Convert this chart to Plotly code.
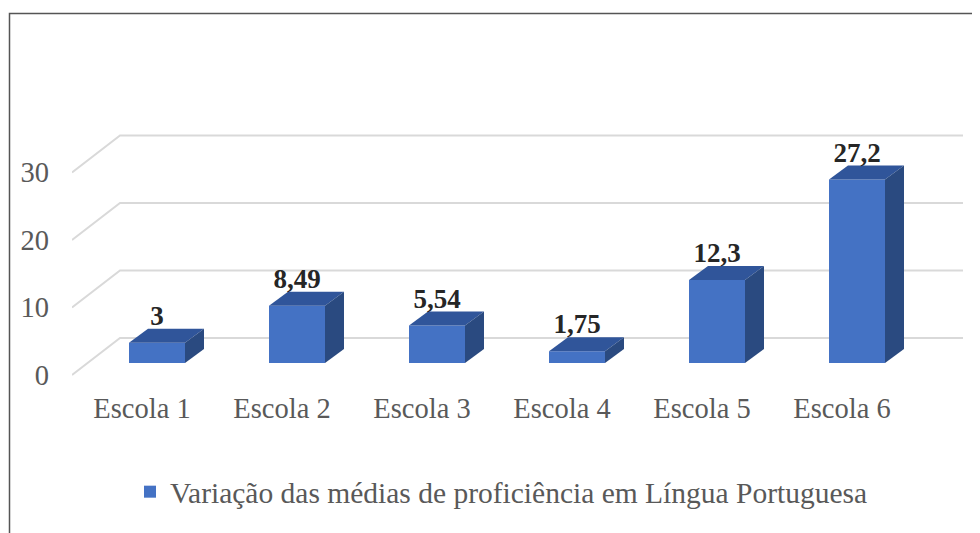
import plotly.graph_objects as go

# ---- data ----
categories = ["Escola 1", "Escola 2", "Escola 3", "Escola 4", "Escola 5", "Escola 6"]
values = [3, 8.49, 5.54, 1.75, 12.3, 27.2]
series_name = "Variação das médias de proficiência em Língua Portuguesa"
y_ticks = [0, 10, 20, 30]

# ---- style / geometry (pseudo-3D projection) ----
W, H = 980, 533
OFF = 8                                  # page body margin
L, R, T, B = 72 - OFF, 965 - OFF, 40 - OFF, 384 - OFF   # plot area in pixels
PX_X = 140.0                             # pixels per category
PX_Y = 6.75                              # pixels per value unit
Y0_PIX = 375 - OFF                       # pixel row of value 0 in front plane
x_range = [0, (R - L) / PX_X]
y_range = [(Y0_PIX - B) / PX_Y, (Y0_PIX - T) / PX_Y]

depth_dx, depth_dy = 48 / PX_X, 37 / PX_Y          # full floor depth
bar_off_dx, bar_off_dy = 15 / PX_X, 12 / PX_Y      # bar front-face offset
bar_w = 56 / PX_X
side_dx, side_dy = 19 / PX_X, 14 / PX_Y            # bar depth
grid_end = (963 - OFF - L) / PX_X
label_drop = 3 / PX_Y

c_front = "#4472C4"
c_top = "#30559A"
c_side = "#2A4A80"
font_fam = "Liberation Serif"

fig = go.Figure()

xc = [i + 0.5 + bar_off_dx for i in range(len(categories))]
base = bar_off_dy

# front faces
fig.add_trace(go.Bar(
    x=xc, y=values, base=[base] * len(values), width=bar_w,
    marker=dict(color=c_front, line=dict(width=0)),
    name=series_name, showlegend=True, hoverinfo="skip",
))

# top and side faces
for x, v in zip(xc, values):
    xl, xr = x - bar_w / 2, x + bar_w / 2
    top = base + v
    fig.add_trace(go.Scatter(
        x=[xl, xr, xr + side_dx, xl + side_dx, xl],
        y=[top, top, top + side_dy, top + side_dy, top],
        fill="toself", fillcolor=c_top, mode="lines",
        line=dict(width=0, color=c_top), showlegend=False, hoverinfo="skip"))
    fig.add_trace(go.Scatter(
        x=[xr, xr + side_dx, xr + side_dx, xr, xr],
        y=[base, base + side_dy, top + side_dy, top, base],
        fill="toself", fillcolor=c_side, mode="lines",
        line=dict(width=0, color=c_side), showlegend=False, hoverinfo="skip"))

# data labels
labels = [("%g" % v).replace(".", ",") for v in values]
fig.add_trace(go.Scatter(
    x=xc, y=[base + v + side_dy - label_drop for v in values], mode="text",
    text=labels, textposition="top center",
    textfont=dict(family=font_fam, size=27, color="#262626", weight="bold"),
    showlegend=False, hoverinfo="skip", cliponaxis=False))

# gridlines (3D: floor diagonal + back wall line)
shapes = []
for v in y_ticks:
    path = "M 0,{a} L {b},{c} L {d},{c}".format(a=v, b=depth_dx, c=v + depth_dy, d=grid_end)
    shapes.append(dict(type="path", path=path, xref="x", yref="y", layer="below",
                       line=dict(color="#D9D9D9", width=2)))

# outer frame
ph, pw = B - T, R - L
shapes.append(dict(type="rect", xref="paper", yref="paper",
                   x0=(9.5 - OFF - L) / pw, x1=(995 - L) / pw,
                   y0=(B - (13.5 - OFF)) / ph, y1=(B - 545) / ph,
                   line=dict(color="#555555", width=1.5), layer="below"))

fig.update_layout(
    width=W, height=H,
    margin=dict(l=L, r=W - R, t=T, b=H - B),
    paper_bgcolor="white", plot_bgcolor="rgba(0,0,0,0)",
    font=dict(family=font_fam, color="#595959"),
    shapes=shapes,
    separators=",.",
    showlegend=True,
    legend=dict(orientation="h", x=(130 - OFF - L) / pw, xanchor="left",
                y=(B - (492 - OFF)) / ph, yanchor="middle",
                font=dict(family=font_fam, size=29.5, color="#595959"),
                bgcolor="rgba(0,0,0,0)"),
    xaxis=dict(range=x_range, tickvals=[i + 0.5 for i in range(len(categories))],
               ticktext=categories, showgrid=False, zeroline=False, showline=False,
               ticks="", ticklabelstandoff=4,
               tickfont=dict(family=font_fam, size=28.5, color="#595959")),
    yaxis=dict(range=y_range, tickvals=y_ticks, showgrid=False, zeroline=False,
               showline=False, ticks="", ticklabelstandoff=22,
               tickfont=dict(family=font_fam, size=28.5, color="#595959")),
)

fig.write_html("out.html")
